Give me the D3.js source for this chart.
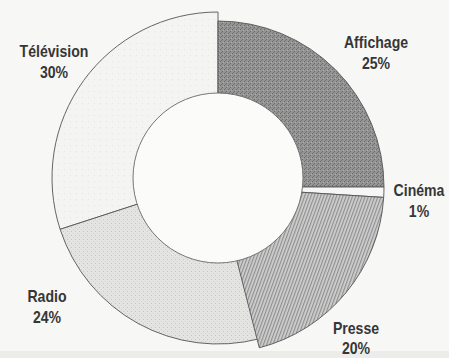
<!DOCTYPE html>
<html>
<head>
<meta charset="utf-8">
<script src="https://cdn.jsdelivr.net/npm/d3@7"></script>
<style>
  html, body { margin: 0; padding: 0; background: #f7f7f5; }
  svg { display: block; }
</style>
</head>
<body>
<svg id="chart" width="449" height="358"></svg>
<script>
// ---- data ----
const categories = ["Affichage", "Cinéma", "Presse", "Radio", "Télévision"];
const values = [25, 1, 20, 24, 30];
const valueLabels = ["25%", "1%", "20%", "24%", "30%"];

// ---- layout / style ----
const W = 449, H = 358;
const cx = 218, cy = 178;
const outerR = 166, holeR = 85;
// right-hand slices sit slightly lower in the original print
const sliceShift = { "Affichage": 9, "Cinéma": 9, "Presse": 9, "Radio": 0, "Télévision": 0 };
const fills = {
  "Affichage": "url(#pAff)",
  "Cinéma": "#f6f6f4",
  "Presse": "url(#pPresse)",
  "Radio": "url(#pRadio)",
  "Télévision": "url(#pTele)"
};
const labelLayout = {
  "Affichage": [376, 48, 21],
  "Cinéma": [419, 196, 21],
  "Presse": [356, 334, 20],
  "Radio": [47, 302, 21],
  "Télévision": [54, 57, 21]
};

const svg = d3.select("#chart");
svg.append("rect").attr("width", W).attr("height", H).attr("fill", "#f7f7f5");
svg.append("rect").attr("y", 351).attr("width", W).attr("height", H - 351).attr("fill", "#ececea");

const defs = svg.append("defs");
// dark stipple
const pa = defs.append("pattern").attr("id", "pAff").attr("patternUnits", "userSpaceOnUse")
  .attr("width", 4).attr("height", 4);
pa.append("rect").attr("width", 4).attr("height", 4).attr("fill", "#949494");
pa.append("rect").attr("x", 0).attr("y", 0).attr("width", 1).attr("height", 1).attr("fill", "#6a6a6a");
pa.append("rect").attr("x", 2).attr("y", 2).attr("width", 1).attr("height", 1).attr("fill", "#6a6a6a");
pa.append("rect").attr("x", 1).attr("y", 3).attr("width", 1).attr("height", 1).attr("fill", "#adadad");
pa.append("rect").attr("x", 3).attr("y", 1).attr("width", 1).attr("height", 1).attr("fill", "#767676");
// hatch for Presse
const pp = defs.append("pattern").attr("id", "pPresse").attr("patternUnits", "userSpaceOnUse")
  .attr("width", 3).attr("height", 3).attr("patternTransform", "rotate(20)");
pp.append("rect").attr("width", 3).attr("height", 3).attr("fill", "#d0d0d0");
pp.append("rect").attr("width", 1.2).attr("height", 3).attr("fill", "#8e8e8e");
// light stipple Radio
const pr = defs.append("pattern").attr("id", "pRadio").attr("patternUnits", "userSpaceOnUse")
  .attr("width", 4).attr("height", 4);
pr.append("rect").attr("width", 4).attr("height", 4).attr("fill", "#e4e4e2");
pr.append("rect").attr("x", 1).attr("y", 1).attr("width", 1).attr("height", 1).attr("fill", "#c6c6c4");
pr.append("rect").attr("x", 3).attr("y", 3).attr("width", 1).attr("height", 1).attr("fill", "#d0d0ce");
// very light Television
const pt = defs.append("pattern").attr("id", "pTele").attr("patternUnits", "userSpaceOnUse")
  .attr("width", 6).attr("height", 6);
pt.append("rect").attr("width", 6).attr("height", 6).attr("fill", "#f4f4f2");
pt.append("rect").attr("x", 2).attr("y", 3).attr("width", 1).attr("height", 1).attr("fill", "#e4e4e2");

const data = categories.map((c, i) => ({ cat: c, value: values[i], label: valueLabels[i] }));
const pie = d3.pie().sort(null).value(d => d.value);
const arcs = pie(data);
const arc = d3.arc().innerRadius(0).outerRadius(outerR);

const g = svg.append("g");
// draw left-hand slices first, then right-hand ones
const order = [4, 3, 0, 1, 2];
order.forEach(i => {
  const a = arcs[i];
  g.append("path")
    .attr("transform", `translate(${cx},${cy + sliceShift[a.data.cat]})`)
    .attr("d", arc(a))
    .attr("fill", fills[a.data.cat])
    .attr("stroke", "#555")
    .attr("stroke-width", 0.9)
    .attr("stroke-linejoin", "miter");
});

// central hole
svg.append("circle").attr("cx", cx).attr("cy", cy).attr("r", holeR)
  .attr("fill", "#fbfbfa").attr("stroke", "#666").attr("stroke-width", 0.9);

// labels (condensed bold look: Arial-metric bold squeezed horizontally)
const sx = 0.88;
const lab = svg.append("g")
  .attr("font-family", "'Liberation Sans', Arial, sans-serif")
  .attr("font-weight", "bold")
  .attr("font-size", 16)
  .attr("fill", "#363636")
  .attr("text-anchor", "middle");
data.forEach(d => {
  const [x, y, gap] = labelLayout[d.cat];
  const t = lab.append("g").attr("transform", `translate(${x},${y}) scale(${sx},1)`);
  t.append("text").attr("x", 0).attr("y", 0).text(d.cat);
  t.append("text").attr("x", 0).attr("y", gap).text(d.label);
});
</script>
</body>
</html>
